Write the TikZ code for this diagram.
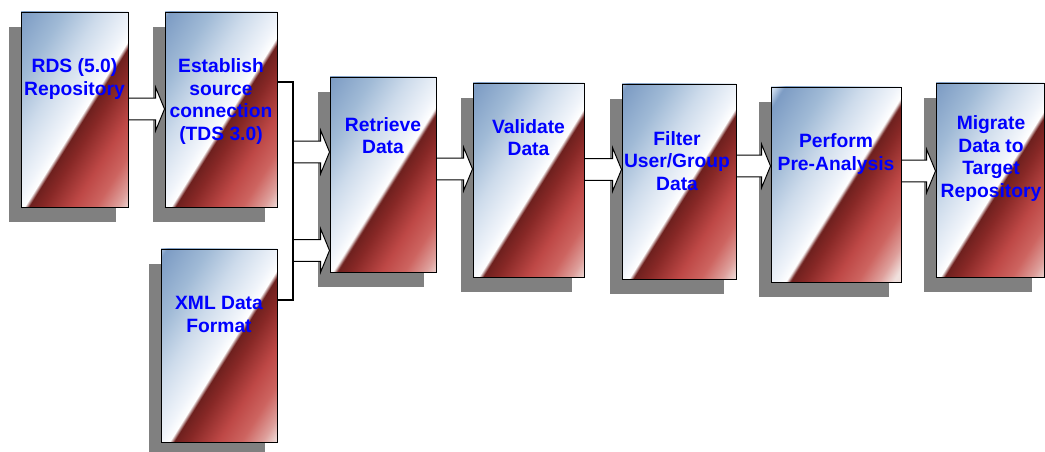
\documentclass[tikz,border=0pt]{standalone}
\usepackage{fontspec}
\setmainfont{Liberation Sans}
\usetikzlibrary{calc,fit,shadows}

\definecolor{blueA}{RGB}{205,220,238}
\definecolor{blueB}{RGB}{125,156,196}
\definecolor{blueC}{RGB}{160,186,214}
\definecolor{blueD}{RGB}{205,219,235}
\definecolor{blueE}{RGB}{240,244,250}
\definecolor{redA}{RGB}{110,32,30}
\definecolor{redB}{RGB}{135,40,38}
\definecolor{redC}{RGB}{190,72,70}
\definecolor{redD}{RGB}{205,100,96}
\definecolor{redE}{RGB}{222,160,156}
\definecolor{redF}{RGB}{240,225,222}

% 200pt square = 25bp..75bp, about 5.6px per bp
\pgfdeclarehorizontalshading{stageshade}{100bp}{color(0bp)=(blueA); color(31.5bp)=(blueA);
  color(33.1bp)=(blueB); color(39.3bp)=(blueC); color(44.7bp)=(blueD); color(50bp)=(blueE);
  color(51.6bp)=(white); color(52.3bp)=(redA); color(54.4bp)=(redB); color(58.9bp)=(redC);
  color(62.4bp)=(redD); color(65.6bp)=(redE); color(67.8bp)=(redF); color(100bp)=(redF)}

\tikzset{
  stagebox/.style={draw=black, line width=0.7pt, inner sep=0pt,
    path picture={
      \begin{scope}[transform canvas={rotate around={-32:(path picture bounding box.center)}}]
        \shade[shading=stageshade] ([shift={(-100pt,-100pt)}]path picture bounding box.center)
          rectangle ([shift={(100pt,100pt)}]path picture bounding box.center);
      \end{scope}},
    drop shadow={shadow xshift=-8.5pt, shadow yshift=-10.7pt, fill=black!50, opacity=1}},
  stagetext/.style={text=blue, font=\fontsize{13.7}{16.1}\selectfont\bfseries, align=center, inner sep=0pt},
  flow/.style={draw=black, fill=white, line width=0.7pt, line join=miter,
    to path={let \p1=(\tikztostart), \p2=(\tikztotarget) in
      (\x1,\y1+7.8pt) -- (\x2-6.4pt,\y1+7.8pt) -- (\x2-6.4pt,\y1+15.6pt) -- (\x2,\y1)
      -- (\x2-6.4pt,\y1-15.6pt) -- (\x2-6.4pt,\y1-7.8pt) -- (\x1,\y1-7.8pt) -- cycle}},
  bus/.style={draw=black, line width=1.4pt}
}

\begin{document}
\begin{tikzpicture}[x=0.025cm, y=-0.025cm]
\useasboundingbox (0,0) rectangle (1045,452);

% stages
\node[stagebox, fit={(21,12) (128,207)}] (rds) {};
\node[stagebox, fit={(165,12) (277,207)}] (est) {};
\node[stagebox, fit={(161,249) (277,442)}] (xml) {};
\node[stagebox, fit={(330,77) (436,272)}] (ret) {};
\node[stagebox, fit={(473,83) (584,277)}] (val) {};
\node[stagebox, fit={(622,84) (736,279)}] (flt) {};
\node[stagebox, fit={(771,87) (901,282)}] (pre) {};
\node[stagebox, fit={(936,83) (1044,277)}] (mig) {};

\node[stagetext] (rdstext) at (rds.center |- 0,79) {RDS (5.0)\\Repository};
\node[stagetext] (esttext) at (est.center |- 0,101.5) {Establish\\source\\connection\\(TDS 3.0)};
\node[stagetext] (xmltext) at (xml.center |- 0,314.5) {XML Data\\Format};
\node[stagetext] (rettext) at (ret.center |- 0,135.5) {Retrieve\\Data};
\node[stagetext] (valtext) at (val.center |- 0,137.5) {Validate\\Data};
\node[stagetext] (flttext) at (677,161) {Filter\\User/Group\\Data};
\node[stagetext] (pretext) at (pre.center |- 0,154) {Perform\\Pre-Analysis};
\node[stagetext] (migtext) at (991,158.5) {Migrate\\Data to\\Target\\Repository};

% connectors
\coordinate (bustop) at (293,82);
\coordinate (busbot) at (293,300);

\draw[flow] (rds.east |- 0,109) to (est.west |- 0,109);
\draw[flow] (bustop |- 0,152) to (ret.west |- 0,152);
\draw[flow] (bustop |- 0,250.5) to (ret.west |- 0,250.5);
\draw[flow] (ret.east |- 0,169) to (val.west |- 0,169);
\draw[flow] (val.east |- 0,169.5) to (flt.west |- 0,169.5);
\draw[flow] (flt.east |- 0,166) to (pre.west |- 0,166);
\draw[flow] (pre.east |- 0,171) to (mig.west |- 0,171);

\draw[bus] (est.east |- bustop) -- (bustop) -- (busbot) -- (xml.east |- busbot);
\end{tikzpicture}
\end{document}
